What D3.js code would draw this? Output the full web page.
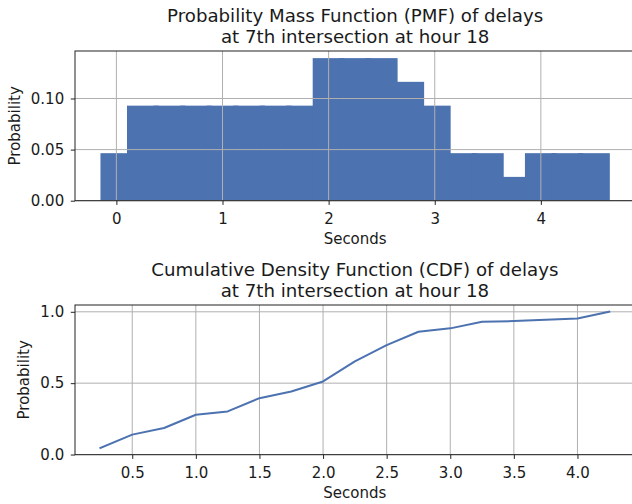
<!DOCTYPE html>
<html>
<head>
<meta charset="utf-8">
<script src="https://cdn.jsdelivr.net/npm/d3@7/dist/d3.min.js"></script>
<style>
  html, body { margin: 0; padding: 0; background: #fff; }
  svg { display: block; font-family: "DejaVu Sans", sans-serif; }
</style>
</head>
<body>
<svg id="chart" width="632" height="504"></svg>
<script>
// ---- data ----
const pmfX = [0, 0.25, 0.5, 0.75, 1.0, 1.25, 1.5, 1.75, 2.0, 2.25, 2.5, 2.75, 3.0, 3.25, 3.5, 3.75, 4.0, 4.25, 4.5];
const pmfProb = [0.0465, 0.093, 0.093, 0.093, 0.093, 0.093, 0.093, 0.093, 0.1395, 0.1395, 0.1395, 0.1163, 0.093, 0.0465, 0.0465, 0.0233, 0.0465, 0.0465, 0.0465];
const cdfX = [0.25, 0.5, 0.75, 1.0, 1.25, 1.5, 1.75, 2.0, 2.25, 2.5, 2.75, 3.0, 3.25, 3.5, 3.75, 4.0, 4.25];
const cdfProb = [0.0465, 0.1395, 0.186, 0.279, 0.302, 0.395, 0.442, 0.512, 0.653, 0.767, 0.860, 0.884, 0.930, 0.935, 0.944, 0.953, 1.0];
const pmfXTicks = [0, 1, 2, 3, 4];
const pmfYTicks = [0, 0.05, 0.10];
const cdfXTicks = [0.5, 1.0, 1.5, 2.0, 2.5, 3.0, 3.5, 4.0];
const cdfYTicks = [0, 0.5, 1.0];
const pmfTitle = ["Probability Mass Function (PMF) of delays", "at 7th intersection at hour 18"];
const cdfTitle = ["Cumulative Density Function (CDF) of delays", "at 7th intersection at hour 18"];
const xLabel = "Seconds";
const yLabel = "Probability";

// ---- style ----
const FS = 15;
const TFS = 18.2;
const BLUE = "#4C72B0";
const GRID = "#b0b0b0";
const barWidth = 0.3;

const svg = d3.select("#chart");

function pad(lo, hi) { const r = hi - lo; return [lo - 0.05 * r, hi + 0.05 * r]; }

function frame(g, x, y, xt, yt, xfmt, yfmt, box, titleLines, ylabelX) {
  const xa = d3.axisBottom(x).tickValues(xt).tickFormat(xfmt).tickSize(4.2).tickPadding(8.4);
  const ya = d3.axisLeft(y).tickValues(yt).tickFormat(yfmt).tickSize(4.2).tickPadding(6.6);
  const gx = g.append("g").attr("transform", `translate(0,${box.bottom})`).call(xa);
  const gy = g.append("g").attr("transform", `translate(${box.left},0)`).call(ya);
  [gx, gy].forEach(a => {
    a.select(".domain").remove();
    a.selectAll(".tick line").attr("stroke", "#222").attr("stroke-width", 1);
    a.selectAll("text").attr("fill", "#1a1a1a").style("font-size", FS + "px").style("font-family", "DejaVu Sans");
  });
  g.append("rect")
    .attr("x", box.left).attr("y", box.top)
    .attr("width", box.right - box.left).attr("height", box.bottom - box.top)
    .attr("fill", "none").attr("stroke", "#222").attr("stroke-width", 1);
  const cx = (box.left + box.right) / 2;
  titleLines.forEach((t, i) => {
    g.append("text").attr("x", cx).attr("y", box.top - 29 + i * 21.3)
      .attr("text-anchor", "middle").attr("fill", "#1a1a1a")
      .style("font-size", TFS + "px").text(t);
  });
  g.append("text").attr("x", cx).attr("y", box.bottom + 43.6)
    .attr("text-anchor", "middle").attr("fill", "#1a1a1a")
    .style("font-size", FS + "px").text(xLabel);
  g.append("text").attr("transform", `translate(${ylabelX},${(box.top + box.bottom) / 2}) rotate(-90)`)
    .attr("text-anchor", "middle").attr("fill", "#1a1a1a")
    .style("font-size", FS + "px").text(yLabel);
}

function grid(g, x, y, xt, yt, box) {
  g.append("g").selectAll("line").data(xt).join("line")
    .attr("x1", d => x(d)).attr("x2", d => x(d))
    .attr("y1", box.top).attr("y2", box.bottom)
    .attr("stroke", GRID).attr("stroke-width", 1);
  g.append("g").selectAll("line").data(yt).join("line")
    .attr("x1", box.left).attr("x2", box.right)
    .attr("y1", d => y(d)).attr("y2", d => y(d))
    .attr("stroke", GRID).attr("stroke-width", 1);
}

// ---- PMF ----
{
  const box = { left: 75, right: 635.3, top: 51, bottom: 200.7 };
  const g = svg.append("g");
  const x = d3.scaleLinear()
    .domain(pad(d3.min(pmfX) - barWidth / 2, d3.max(pmfX) + barWidth / 2))
    .range([box.left, box.right]);
  const y = d3.scaleLinear().domain([0, d3.max(pmfProb) * 1.05]).range([box.bottom, box.top]);
  const bars = pmfX.map((v, i) => ({ x: v, p: pmfProb[i] }));
  g.append("g").selectAll("rect").data(bars).join("rect")
    .attr("x", d => x(d.x - barWidth / 2))
    .attr("width", d => x(d.x + barWidth / 2) - x(d.x - barWidth / 2))
    .attr("y", d => y(d.p))
    .attr("height", d => y(0) - y(d.p))
    .attr("fill", BLUE);
  grid(g, x, y, pmfXTicks, pmfYTicks, box);
  frame(g, x, y, pmfXTicks, pmfYTicks, d3.format("d"), d3.format(".2f"), box, pmfTitle, 20);
}

// ---- CDF ----
{
  const box = { left: 75, right: 634.7, top: 305, bottom: 454.7 };
  const g = svg.append("g");
  const x = d3.scaleLinear().domain(pad(d3.min(cdfX), d3.max(cdfX))).range([box.left, box.right]);
  const y = d3.scaleLinear().domain(pad(d3.min(cdfProb), d3.max(cdfProb))).range([box.bottom, box.top]);
  grid(g, x, y, cdfXTicks, cdfYTicks, box);
  const pts = cdfX.map((v, i) => [v, cdfProb[i]]);
  g.append("path").datum(pts)
    .attr("d", d3.line().x(d => x(d[0])).y(d => y(d[1])))
    .attr("fill", "none").attr("stroke", BLUE).attr("stroke-width", 2)
    .attr("stroke-linejoin", "round").attr("stroke-linecap", "square");
  frame(g, x, y, cdfXTicks, cdfYTicks, d3.format(".1f"), d3.format(".1f"), box, cdfTitle, 29);
}
</script>
</body>
</html>
